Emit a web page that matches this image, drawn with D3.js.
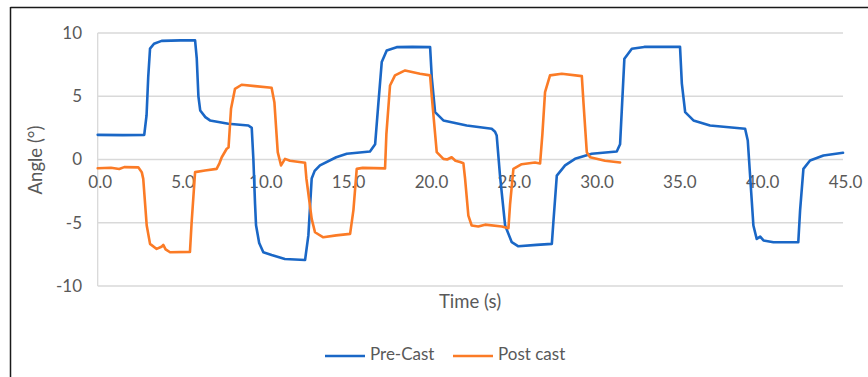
<!DOCTYPE html>
<html><head><meta charset="utf-8">
<script src="https://cdn.jsdelivr.net/npm/d3@7"></script>
<style>
html,body{margin:0;padding:0;background:#fff;}
svg{display:block;font-family:Lato,"Open Sans",sans-serif;}
</style></head>
<body>
<svg id="chart" width="868" height="377"></svg>
<script>
const seriesNames = ["Pre-Cast", "Post cast"];
const seriesColors = ["#1a67c6", "#fb7b26"];
const xTicks = [0, 5, 10, 15, 20, 25, 30, 35, 40, 45];
const yTicks = [-10, -5, 0, 5, 10];

const preTime = [0,1.5,2.81,2.95,3.05,3.16,3.4,3.86,5.0,5.88,5.98,6.08,6.19,6.5,6.78,7.89,9.1,9.3,9.4,9.5,9.56,9.75,10.0,10.5,11.3,12.52,12.72,12.92,13.1,13.42,14.4,15.04,16.44,16.75,16.95,17.15,17.45,18.05,19.0,20.07,20.17,20.37,20.87,22.28,23.79,23.99,24.09,24.29,24.6,25.0,25.4,26.5,27.42,27.51,27.72,28.22,28.82,29.83,31.34,31.54,31.8,32.25,33.0,35.16,35.27,35.47,35.97,36.97,39.09,39.25,39.59,39.79,40.0,40.2,40.8,42.3,42.41,42.61,43.01,43.82,45.0];
const preAngle = [1.95,1.93,1.95,3.5,6.5,8.76,9.15,9.38,9.42,9.42,8.0,5.0,3.88,3.35,3.09,2.82,2.69,2.5,0.0,-3.5,-5.2,-6.6,-7.33,-7.55,-7.86,-7.95,-6.0,-1.5,-0.9,-0.47,0.18,0.45,0.63,1.2,4.5,7.7,8.62,8.88,8.9,8.88,6.5,3.74,3.09,2.69,2.43,2.2,1.9,-1.27,-5.22,-6.54,-6.86,-6.75,-6.67,-5.0,-1.27,-0.47,0.05,0.45,0.63,1.2,7.97,8.76,8.9,8.9,6.0,3.74,3.09,2.69,2.43,1.5,-5.22,-6.28,-6.1,-6.4,-6.54,-6.54,-4.0,-0.74,-0.08,0.32,0.53];

const postTime = [0,0.8,1.3,1.6,2.45,2.66,2.75,2.96,3.16,3.56,3.85,3.96,4.1,4.37,5.57,5.67,5.88,6.48,7.18,7.35,7.49,7.79,7.9,8.05,8.29,8.69,9.5,10.5,10.67,10.87,11.07,11.31,11.61,12.52,12.6,12.92,13.12,13.62,14.4,15.24,15.44,15.64,16.0,17.35,17.43,17.65,17.95,18.56,19.46,20.07,20.17,20.47,20.87,21.1,21.37,21.6,21.88,22.08,22.18,22.38,22.58,22.98,23.39,24.4,24.8,24.9,25.1,25.6,26.4,26.71,26.85,27.01,27.31,28.02,29.23,29.33,29.53,29.73,30.63,31.54];
const postAngle = [-0.69,-0.65,-0.75,-0.6,-0.62,-1.0,-1.53,-5.22,-6.67,-7.07,-6.9,-6.75,-7.1,-7.33,-7.3,-5.0,-1.0,-0.87,-0.74,-0.3,0.18,0.85,0.95,4.01,5.59,5.91,5.8,5.67,4.5,0.58,-0.47,0.05,-0.1,-0.26,-1.5,-4.69,-5.75,-6.15,-6.0,-5.88,-4.0,-0.74,-0.66,-0.7,2.0,5.85,6.65,7.04,6.78,6.65,5.0,0.58,0.05,0.0,0.18,-0.1,-0.2,-0.3,-1.5,-4.43,-5.22,-5.3,-5.15,-5.3,-5.43,-3.5,-0.74,-0.37,-0.24,-0.32,2.0,5.33,6.65,6.78,6.59,4.5,0.58,0.18,-0.1,-0.24];

const series = [
  preTime.map((t, i) => [t, preAngle[i]]),
  postTime.map((t, i) => [t, postAngle[i]])
];

const svg = d3.select("#chart");
const x = d3.scaleLinear().domain([0, 45]).range([97.7, 843]);
const y = d3.scaleLinear().domain([-10, 10]).range([286, 33]);
const textColor = "#595959";
const fontFam = "Lato,'Open Sans',sans-serif";

// outer frame (top & left)
svg.append("line").attr("x1", 10.5).attr("x2", 868).attr("y1", 7.5).attr("y2", 7.5)
  .attr("stroke", "#1a1a1a").attr("stroke-width", 1.5);
svg.append("line").attr("x1", 10.5).attr("x2", 10.5).attr("y1", 7).attr("y2", 377)
  .attr("stroke", "#1a1a1a").attr("stroke-width", 1.5);

// gridlines
svg.append("g").selectAll("line").data(yTicks).join("line")
  .attr("x1", x(0)).attr("x2", x(45))
  .attr("y1", d => y(d)).attr("y2", d => y(d))
  .attr("stroke", "#d9d9d9").attr("stroke-width", 1.3);
// vertical axis line
svg.append("line").attr("x1", x(0)).attr("x2", x(0)).attr("y1", y(10)).attr("y2", y(-10))
  .attr("stroke", "#d9d9d9").attr("stroke-width", 1.3);

// y tick labels
const yAxis = d3.axisLeft(y).tickValues(yTicks).tickSize(0).tickPadding(0).tickFormat(d => String(d));
const gy = svg.append("g").attr("transform", "translate(82,0)").call(yAxis);
gy.select(".domain").remove();
gy.selectAll("text").attr("fill", textColor).style("font-size", "17px").style("font-family", fontFam);

// x tick labels (positioned below zero line)
const xAxis = d3.axisBottom(x).tickValues(xTicks).tickSize(0).tickPadding(0).tickFormat(d => d.toFixed(1));
const gx = svg.append("g").attr("transform", `translate(2,${y(0) + 24})`).call(xAxis);
gx.select(".domain").remove();
gx.selectAll("text").attr("fill", textColor).attr("dy", "0").attr("dominant-baseline", "middle")
  .style("font-size", "17px").style("font-family", fontFam);

// lines
const line = d3.line().x(d => x(d[0])).y(d => y(d[1]));
series.forEach((s, i) => {
  svg.append("path").datum(s).attr("d", line)
    .attr("fill", "none").attr("stroke", seriesColors[i])
    .attr("stroke-width", 2.6).attr("stroke-linejoin", "round").attr("stroke-linecap", "round");
});

// axis titles
svg.append("text").attr("x", 470).attr("y", 303).attr("text-anchor", "middle")
  .attr("dominant-baseline", "middle").attr("fill", textColor).style("font-size", "18.5px")
  .text("Time (s)");
svg.append("text").attr("transform", "translate(37,160) rotate(-90)").attr("text-anchor", "middle")
  .attr("dominant-baseline", "middle").attr("fill", textColor).style("font-size", "18.5px")
  .text("Angle (°)");

// legend
const legendX = [325, 453];
seriesNames.forEach((name, i) => {
  const g = svg.append("g").attr("transform", `translate(${legendX[i]},356)`);
  g.append("line").attr("x1", 0).attr("x2", 40).attr("y1", 0).attr("y2", 0)
    .attr("stroke", seriesColors[i]).attr("stroke-width", 2.6);
  g.append("text").attr("x", 45).attr("y", 0).attr("dominant-baseline", "middle")
    .attr("fill", textColor).style("font-size", "17px").text(name);
});
</script>
</body></html>
